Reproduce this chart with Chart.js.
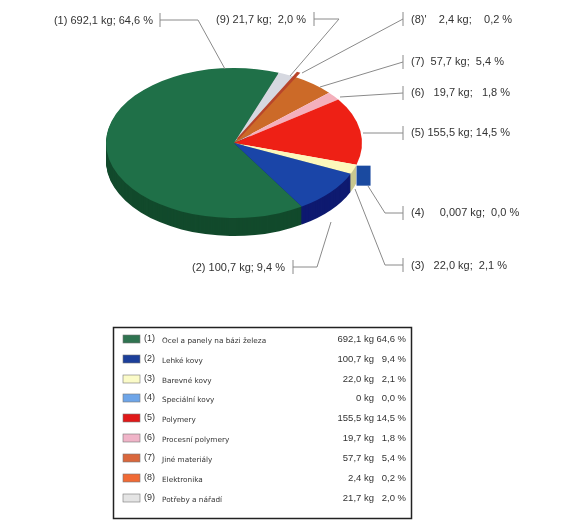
<!DOCTYPE html>
<html>
<head>
<meta charset="utf-8">
<title>Materiály</title>
<script src="https://cdn.jsdelivr.net/npm/chart.js@4/dist/chart.umd.min.js"></script>
<style>
  html, body { margin: 0; padding: 0; background: #fff; }
  canvas { display: block; }
</style>
</head>
<body>
<canvas id="chart" width="566" height="525"></canvas>
<script>
const numbers = ["(1)", "(2)", "(3)", "(4)", "(5)", "(6)", "(7)", "(8)", "(9)"];
const categories = ["Ocel a panely na bázi železa", "Lehké kovy", "Barevné kovy", "Speciální kovy", "Polymery",
  "Procesní polymery", "Jiné materiály", "Elektronika", "Potřeby a nářadí"];
const kgValues = [692.1, 100.7, 22.0, 0.007, 155.5, 19.7, 57.7, 2.4, 21.7];
const legendKg = ["692,1 kg", "100,7 kg", "22,0 kg", "0 kg", "155,5 kg", "19,7 kg", "57,7 kg", "2,4 kg", "21,7 kg"];
const legendPct = ["64,6 %", "9,4 %", "2,1 %", "0,0 %", "14,5 %", "1,8 %", "5,4 %", "0,2 %", "2,0 %"];
const calloutText = ["(1) 692,1 kg; 64,6 %", "(2) 100,7 kg; 9,4 %", "(3)   22,0 kg;  2,1 %", "(4)     0,007 kg;  0,0 %",
  "(5) 155,5 kg; 14,5 %", "(6)   19,7 kg;   1,8 %", "(7)  57,7 kg;  5,4 %", "(8)'    2,4 kg;    0,2 %", "(9) 21,7 kg;  2,0 %"];

// slices run clockwise as 1, 9, 8 ... 2 in the picture
const sliceOrder = [0, 8, 7, 6, 5, 4, 3, 2, 1];

const faceColors = ["#1f7048", "#1a45a8", "#fdf8bb", "#1a4aa0", "#ee2015", "#f4b0bc", "#cc6a28", "#b8452a", "#d6d8e0"];
const sideColors = ["#124a2c", "#0e1a70", "#c9c88f", null, null, null, null, null, null];
const swatchColors = ["#2f7350", "#1c3f9a", "#fbfbc8", "#6ea5e8", "#e01818", "#f0b4c8", "#d9673c", "#f06a35", "#e4e4e4"];

const squash = 0.586;
const depth = 18;

// [text x, text y, align, leader points]
const callouts = [
  [153, 21, "right", [[160, 20], [198, 20], [225, 69]]],
  [285, 268, "right", [[293, 267], [317, 267], [331, 222]]],
  [411, 266, "left", [[403, 265], [385, 265], [355, 189]]],
  [411, 213, "left", [[403, 213], [385, 213], [368, 186]]],
  [411, 133, "left", [[403, 133], [363, 133]]],
  [411, 93, "left", [[403, 93], [340, 97]]],
  [411, 62, "left", [[403, 62], [320, 87]]],
  [411, 20, "left", [[403, 19], [302, 73]]],
  [306, 20, "right", [[314, 19], [339, 19], [290, 76]]]
];

function segmentPath(ctx, arc, dy) {
  const mid = (arc.startAngle + arc.endAngle) / 2;
  const off = arc.options.offset || 0;
  const x = arc.x + Math.cos(mid) * off;
  const y = arc.y + Math.sin(mid) * off;
  ctx.beginPath();
  ctx.moveTo(x, y + dy / squash);
  ctx.arc(x, y + dy / squash, arc.outerRadius, arc.startAngle, arc.endAngle);
  ctx.closePath();
}

const pie3d = {
  id: "pie3d",
  beforeDatasetsDraw(chart) {
    const ctx = chart.ctx;
    const arcs = chart.getDatasetMeta(0).data;
    const cy = arcs[0].y;
    ctx.save();
    ctx.translate(0, cy);
    ctx.scale(1, squash);
    ctx.translate(0, -cy);
    // side wall, only the slices that show one
    for (let d = depth; d >= 1; d--) {
      arcs.forEach((arc, i) => {
        const side = sideColors[sliceOrder[i]];
        if (!side) return;
        ctx.fillStyle = side;
        segmentPath(ctx, arc, d);
        ctx.fill();
      });
    }
  },
  afterDatasetsDraw(chart) {
    const ctx = chart.ctx;
    const arcs = chart.getDatasetMeta(0).data;
    // slice 8 is hair thin, thicken it so the tip shows
    const thin = arcs[sliceOrder.indexOf(7)];
    ctx.strokeStyle = faceColors[7];
    ctx.lineWidth = 2;
    segmentPath(ctx, thin, 0);
    ctx.stroke();
    ctx.restore();
    // slice 4 is too thin to see, only its pulled out wall shows
    const arc = arcs[sliceOrder.indexOf(3)];
    const mid = (arc.startAngle + arc.endAngle) / 2;
    const bx = arc.x + Math.cos(mid) * arc.outerRadius;
    const by = arc.y + Math.sin(mid) * arc.outerRadius * squash;
    ctx.fillStyle = faceColors[3];
    ctx.fillRect(bx, by + 1, 14, 20);
  }
};

const annotations = {
  id: "annotations",
  afterDraw(chart) {
    const ctx = chart.ctx;
    ctx.save();
    // callouts
    ctx.strokeStyle = "#8a8a8a";
    ctx.lineWidth = 1;
    ctx.fillStyle = "#333";
    ctx.font = "11px 'Liberation Sans'";
    ctx.textBaseline = "middle";
    callouts.forEach((c, i) => {
      const pts = c[3];
      ctx.beginPath();
      ctx.moveTo(pts[0][0], pts[0][1] - 7);
      ctx.lineTo(pts[0][0], pts[0][1] + 7);
      ctx.moveTo(pts[0][0], pts[0][1]);
      pts.slice(1).forEach(p => ctx.lineTo(p[0], p[1]));
      ctx.stroke();
      ctx.textAlign = c[2];
      ctx.fillText(calloutText[i], c[0], c[1]);
    });
    // legend box
    ctx.strokeStyle = "#222";
    ctx.lineWidth = 1.5;
    ctx.strokeRect(113.5, 327.5, 298, 191);
    const rowY = [339, 359, 379, 398, 418, 438, 458, 478, 498];
    categories.forEach((name, i) => {
      const y = rowY[i];
      ctx.fillStyle = swatchColors[i];
      ctx.strokeStyle = "#777";
      ctx.lineWidth = 0.6;
      ctx.fillRect(123, y - 4, 17, 8);
      ctx.strokeRect(123, y - 4, 17, 8);
      ctx.fillStyle = "#333";
      ctx.textAlign = "left";
      ctx.font = "9px 'Liberation Sans'";
      ctx.fillText(numbers[i], 144, y);
      ctx.font = "7.3px 'DejaVu Sans'";
      ctx.fillText(name, 162, y + 2);
      ctx.font = "9.5px 'Liberation Sans'";
      ctx.textAlign = "right";
      ctx.fillText(legendKg[i], 374, y);
      ctx.fillText(legendPct[i], 406, y);
    });
    ctx.restore();
  }
};

new Chart(document.getElementById("chart"), {
  type: "pie",
  data: {
    labels: sliceOrder.map(i => categories[i]),
    datasets: [{
      data: sliceOrder.map(i => kgValues[i]),
      backgroundColor: sliceOrder.map(i => faceColors[i]),
      borderWidth: 0,
      offset: sliceOrder.map(i => (i === 7 ? 8 : 0)),
      clip: false
    }]
  },
  options: {
    responsive: false,
    animation: false,
    rotation: 148,
    layout: { padding: { left: 102, right: 200, top: 11, bottom: 250 } },
    plugins: { legend: { display: false }, tooltip: { enabled: false } }
  },
  plugins: [pie3d, annotations]
});
</script>
</body>
</html>
